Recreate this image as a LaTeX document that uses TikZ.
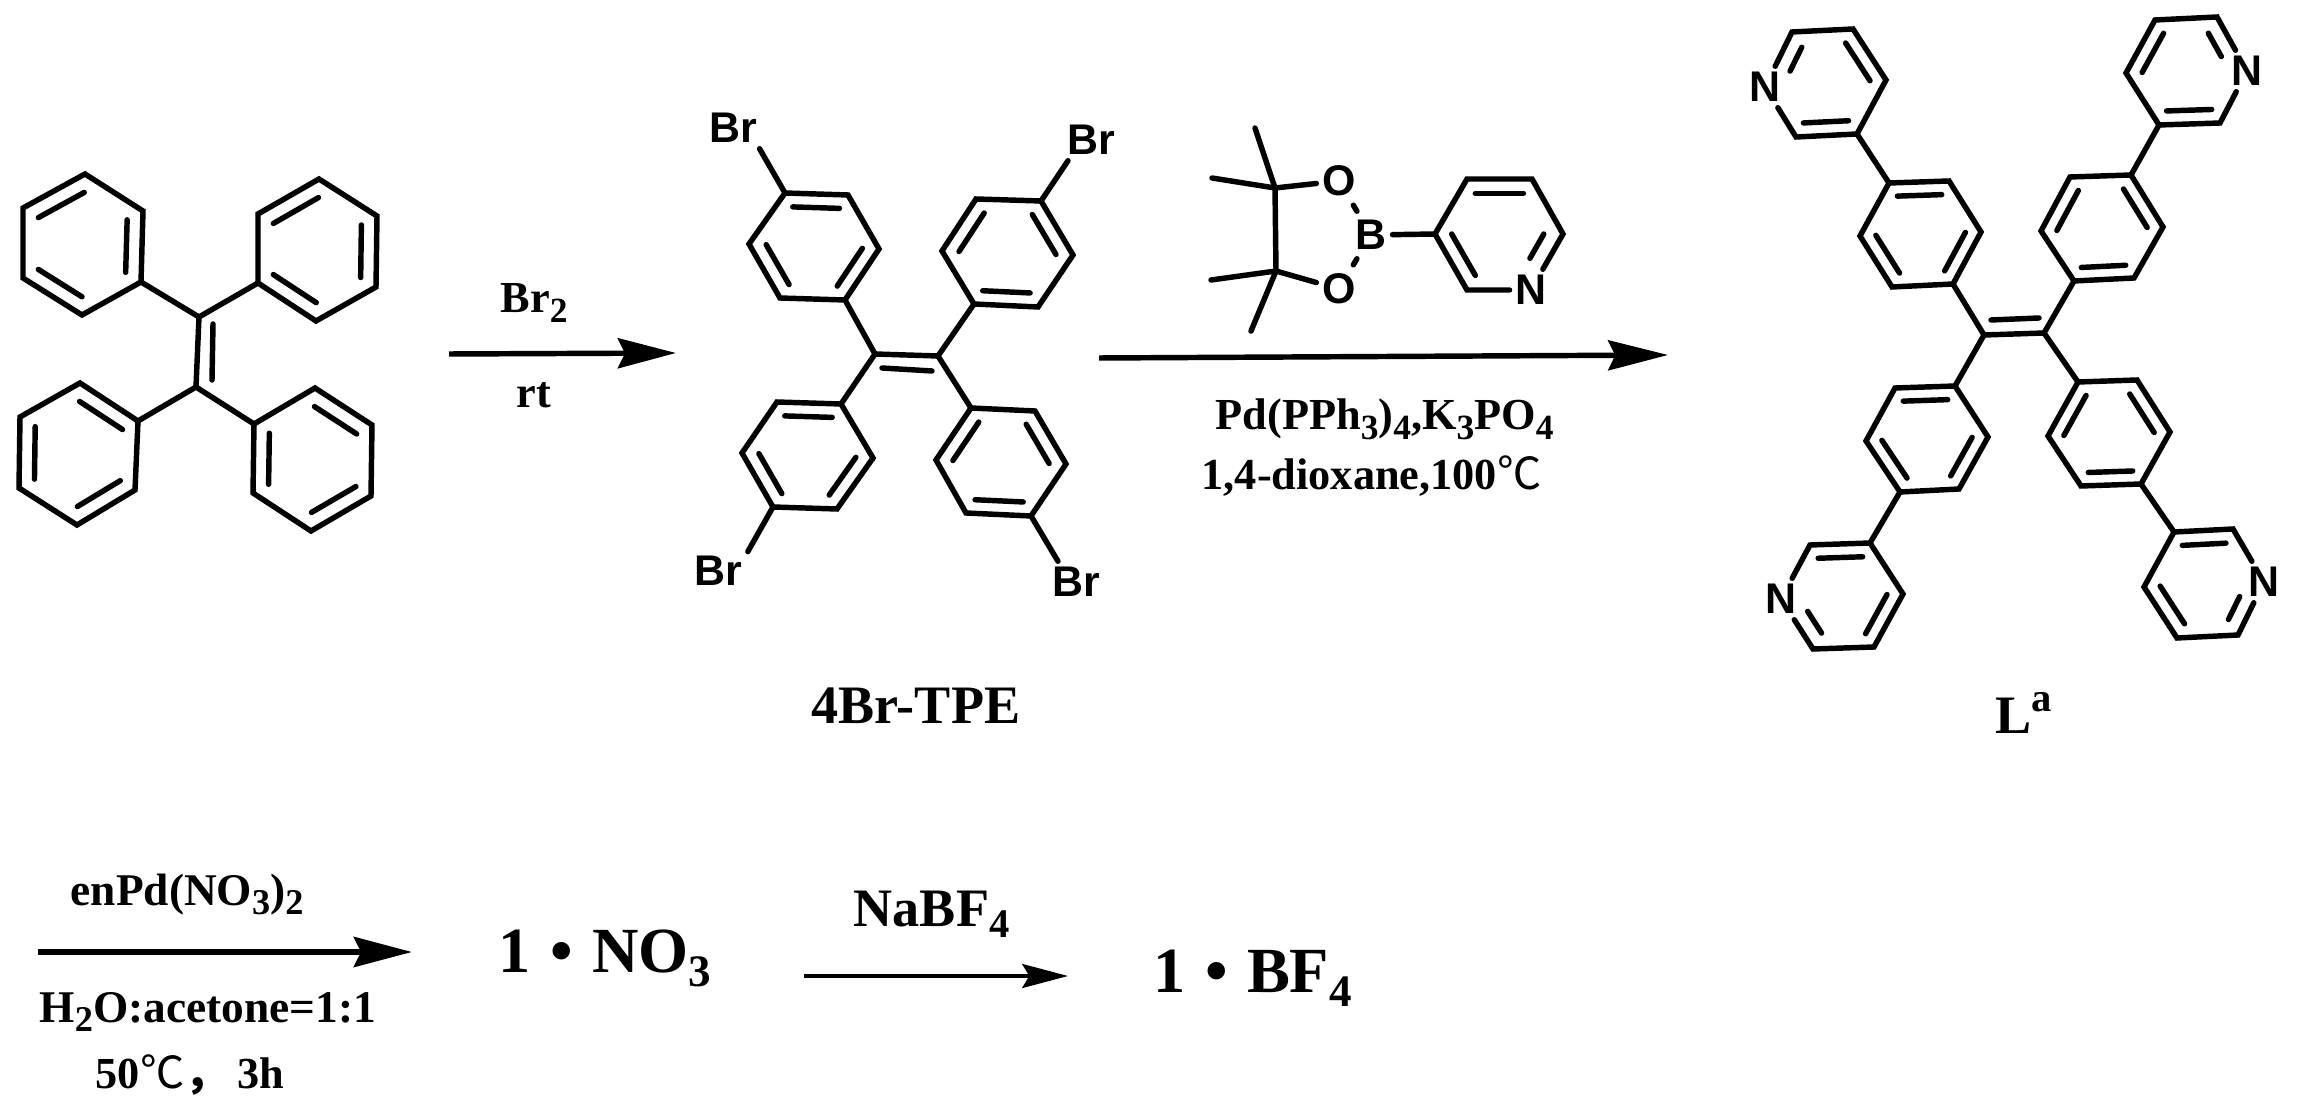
\documentclass[tikz,border=0pt]{standalone}
\usepackage{fontspec}
\usepackage{graphicx}
\usetikzlibrary{calc}
\usetikzlibrary{arrows.meta}
\setmainfont{Liberation Serif}
\newfontfamily\atomfont{Liberation Sans}
\newfontfamily\cjk{Noto Sans CJK SC}
\tikzstyle{every node}=[inner sep=0pt]
\tikzstyle{bond}=[line width=1.55pt, line cap=round, line join=miter]
\tikzstyle{atom}=[inner sep=1.5pt, font=\atomfont\bfseries\fontsize{12.2}{14}\selectfont]
\tikzstyle{rgt}=[anchor=base west, font=\bfseries\fontsize{12.6}{14}\selectfont]
\tikzstyle{rgtb}=[anchor=base west, font=\bfseries\fontsize{12.9}{14}\selectfont]
\tikzstyle{cpd}=[anchor=base west, font=\bfseries\fontsize{15.4}{18}\selectfont]
\tikzstyle{big}=[anchor=base west, font=\bfseries\fontsize{18.3}{22}\selectfont]
\tikzset{rxn/.style n args={3}{line width=#1,-{Stealth[length=#2,width=#3,inset=2pt]}}}
\newcommand{\chemsub}[2][.8]{\raisebox{-.22em}{\scalebox{#1}{#2}}}
\newcommand{\chemsup}[1]{\raisebox{.39em}{\scalebox{.75}{#1}}}
\newcommand{\hexa}[7]{
	\coordinate (#1a) at (#2);
	\coordinate (#1b) at (#3);
	\coordinate (#1c) at (#4);
	\coordinate (#1d) at (#5);
	\coordinate (#1e) at (#6);
	\coordinate (#1f) at (#7);
	\coordinate (#1o) at ($(#1a)!.5!(#1d)$);
	\draw[bond] (#1a) -- (#1b) -- (#1c) -- (#1d) -- (#1e) -- (#1f) -- cycle;
	\draw[bond] ($(#1a)!.26!(#1o)$) -- ($(#1b)!.26!(#1o)$);
	\draw[bond] ($(#1c)!.26!(#1o)$) -- ($(#1d)!.26!(#1o)$);
	\draw[bond] ($(#1e)!.26!(#1o)$) -- ($(#1f)!.26!(#1o)$);
}
\newcommand{\pyri}[7]{
	\coordinate (#1a) at (#2);
	\coordinate (#1b) at (#3);
	\coordinate (#1c) at (#4);
	\coordinate (#1d) at (#5);
	\coordinate (#1e) at (#6);
	\node[atom] (#1f) at (#7) {N};
	\coordinate (#1o) at ($(#1a)!.5!(#1d)$);
	\draw[bond] (#1f) -- (#1a) -- (#1b) -- (#1c) -- (#1d) -- (#1e) -- (#1f);
	\draw[bond] ($($(#1f)!.38!(#1a)$)!.3!(#1o)$) -- ($(#1a)!.3!(#1o)$);
	\draw[bond] ($(#1b)!.26!(#1o)$) -- ($(#1c)!.26!(#1o)$);
	\draw[bond] ($(#1d)!.26!(#1o)$) -- ($(#1e)!.26!(#1o)$);
}
\begin{document}
\begin{tikzpicture}[x=0.01cm,y=-0.01cm]
	\useasboundingbox (0,0) rectangle (2300,1116);
	% tetraphenylethene
	\hexa{pa}{23,208}{85,174}{143,211}{141,282}{82,315}{23,278}
	\hexa{pb}{258,214}{319,179}{377,216}{376,287}{316,321}{258,283}
	\hexa{pc}{80,383}{138,421}{135,490}{77,525}{19,488}{20,417}
	\hexa{pd}{315,388}{372,425}{371,496}{311,531}{253,493}{254,424}
	\coordinate (ea) at (199,317);
	\coordinate (eb) at (196,387);
	\coordinate (eai) at (213,324);
	\coordinate (ebi) at (212,380);
	\draw[bond] (ea) -- (eb);
	\draw[bond] (eai) -- (ebi);
	\draw[bond] (pad) -- (ea);
	\draw[bond] (pbf) -- (ea);
	\draw[bond] (pcb) -- (eb);
	\draw[bond] (pdf) -- (eb);
	% first step
	\coordinate (stepa) at (449,354);
	\coordinate (stepb) at (676,353);
	\draw[rxn={1.55pt}{16.5pt}{8.5pt}] (stepa) -- (stepb);
	\node[rgt] (brtwo) at (500,313) {Br\chemsub{2}};
	\node[rgt] (rt) at (516,408) {rt};
	% 4Br-TPE
	\hexa{qa}{785,193}{848,195}{879,249}{845,300}{780,298}{749,244}
	\hexa{qb}{942,251}{976,199}{1041,201}{1073,255}{1038,307}{974,304}
	\hexa{qc}{777,402}{841,404}{873,458}{837,509}{773,507}{742,453}
	\hexa{qd}{936,460}{971,408}{1035,411}{1066,464}{1031,516}{966,513}
	\coordinate (fa) at (875,354);
	\coordinate (fb) at (938,356);
	\coordinate (fai) at (882,368);
	\coordinate (fbi) at (932,371);
	\draw[bond] (fa) -- (fb);
	\draw[bond] (fai) -- (fbi);
	\draw[bond] (qad) -- (fa);
	\draw[bond] (qbf) -- (fb);
	\draw[bond] (qcb) -- (fa);
	\draw[bond] (qdb) -- (fb);
	\node[atom] (bra) at (733,128) {Br};
	\node[atom] (brb) at (1091,140) {Br};
	\node[atom] (brc) at (718,571) {Br};
	\node[atom] (brd) at (1076,582) {Br};
	\draw[bond] (qaa) -- (bra.-38);
	\draw[bond] (qbc) -- (brb.-138);
	\draw[bond] (qce) -- (brc.33);
	\draw[bond] (qde) -- (brd.131);
	\node[cpd] (tpe) at (811,723) {4Br-TPE};
	% boronate
	\pyri{py}{1563,234}{1532,179}{1467,179}{1435,234}{1467,290}{1531,290}
	\coordinate (ca) at (1275,188);
	\coordinate (cb) at (1276,271);
	\coordinate (ma) at (1255,128);
	\coordinate (mb) at (1212,178);
	\coordinate (mc) at (1211,280);
	\coordinate (md) at (1251,331);
	\node[atom] (oa) at (1339,181) {O};
	\node[atom] (ob) at (1339,289) {O};
	\node[atom] (bo) at (1371,235) {B};
	\draw[bond] (ca) -- (cb);
	\draw[bond] (ca) -- (ma);
	\draw[bond] (ca) -- (mb);
	\draw[bond] (cb) -- (mc);
	\draw[bond] (cb) -- (md);
	\draw[bond] (ca) -- (oa);
	\draw[bond] (cb) -- (ob);
	\draw[bond, shorten <=1pt, shorten >=1pt] (oa) -- (bo);
	\draw[bond, shorten <=1pt, shorten >=1pt] (ob) -- (bo);
	\draw[bond] (bo) -- (pyd);
	% second step
	\coordinate (stepc) at (1099,358);
	\coordinate (stepd) at (1668,355);
	\draw[rxn={1.55pt}{17pt}{8.5pt}] (stepc) -- (stepd);
	\node[rgt] (pdcat) at (1215,430) {Pd(PPh\chemsub{3})\chemsub{4},K\chemsub{3}PO\chemsub{4}};
	\node[rgt] (diox) at (1201,490) {1,4-dioxane,100{\cjk\mdseries ℃}};
	% ligand
	\pyri{la}{1792,32}{1853,29}{1886,80}{1857,134}{1796,137}{1765,87}
	\pyri{lb}{2217,17}{2155,20}{2126,73}{2159,125}{2220,123}{2247,71}
	\pyri{lc}{1813,649}{1874,647}{1903,594}{1870,543}{1810,545}{1781,599}
	\pyri{ld}{2238,635}{2177,638}{2144,587}{2174,532}{2233,529}{2264,582}
	\hexa{ra}{1889,183}{1949,181}{1981,232}{1953,284}{1892,287}{1860,236}
	\hexa{rb}{2041,231}{2070,177}{2131,175}{2163,227}{2134,278}{2074,281}
	\hexa{rc}{1895,388}{1955,386}{1988,437}{1959,489}{1900,492}{1866,441}
	\hexa{rd}{2048,436}{2078,382}{2137,380}{2170,432}{2141,484}{2081,486}
	\coordinate (ga) at (1984,335);
	\coordinate (gb) at (2044,333);
	\coordinate (gai) at (1991,320);
	\coordinate (gbi) at (2039,318);
	\draw[bond] (ga) -- (gb);
	\draw[bond] (gai) -- (gbi);
	\draw[bond] (rad) -- (ga);
	\draw[bond] (rbf) -- (gb);
	\draw[bond] (rcb) -- (ga);
	\draw[bond] (rdb) -- (gb);
	\draw[bond] (lad) -- (raa);
	\draw[bond] (lbd) -- (rbc);
	\draw[bond] (lcd) -- (rce);
	\draw[bond] (ldd) -- (rde);
	\node[cpd] (lig) at (1995,733) {L\chemsup{a}};
	% bottom row
	\coordinate (stepe) at (38,952);
	\coordinate (stepf) at (412,952);
	\draw[rxn={1.85pt}{16.5pt}{8.5pt}] (stepe) -- (stepf);
	\node[rgtb] (enpd) at (70,905) {enPd(NO\chemsub{3})\chemsub{2}};
	\node[rgtb] (water) at (39,1022) {H\chemsub{2}O:acetone=1:1};
	\node[rgt] (cond) at (95,1088) {50{\cjk\mdseries ℃}{\cjk ，}\hspace{.2em}3h};
	\node[big] (nitrate) at (498,972) {1\hspace{.3em}•\hspace{.3em}NO\chemsub[.7]{3}};
	\coordinate (stepg) at (804,976);
	\coordinate (steph) at (1068,976);
	\draw[rxn={1.15pt}{13pt}{6.8pt}] (stepg) -- (steph);
	\node[cpd] (nabf) at (853,926) {NaBF\chemsub[.75]{4}};
	\node[big] (borate) at (1153,992) {1\hspace{.3em}•\hspace{.3em}BF\chemsub[.7]{4}};
\end{tikzpicture}
\end{document}
